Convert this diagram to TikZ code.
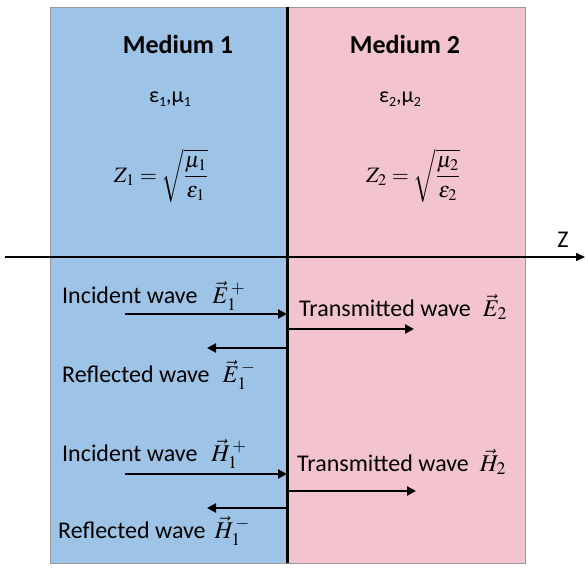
\documentclass[tikz,border=0pt]{standalone}
\usepackage{mathptmx}
\usepackage[no-math]{fontspec}
\setmainfont{Carlito}
\usetikzlibrary{positioning,arrows.meta,calc}
\definecolor{mediumblue}{RGB}{157,195,230}
\definecolor{mediumpink}{RGB}{243,196,205}
\newcommand{\medsub}[1]{\raisebox{-4pt}{\fontsize{14}{14}\selectfont #1}}
\newcommand{\fieldsym}[1]{{\fontsize{24}{28}\selectfont$#1$}}

\begin{document}
\begin{tikzpicture}[
      x=1pt, y=-1pt,
      font=\fontsize{20}{24}\selectfont,
      medium/.style={draw=gray!80, line width=0.6pt, minimum width=237pt, minimum height=556pt, anchor=north west, inner sep=0pt, outer sep=0pt},
      title/.style={font=\fontsize{26}{30}\selectfont\bfseries},
      lbl/.style={anchor=base west, inner sep=0pt, font=\fontsize{24}{28}\selectfont},
      wave/.style={-{Triangle[length=9pt,width=9pt]}, line width=2.2pt},
    ]
      \useasboundingbox (0,0) rectangle (588,567);
      % the two media
      \node[medium, fill=mediumblue] (m1) at (50,7) {};
      \node[medium, fill=mediumpink] (m2) at (288,7) {};
      \draw[line width=3pt] (m1.north east) -- (m1.south east);
      % z axis
      \coordinate (zstart) at (5,257);
      \coordinate (zend) at (585,257);
      \draw[line width=1.5pt, -{Triangle[length=9pt,width=8pt]}] (zstart) -- (zend);
      \node[font=\fontsize{24}{28}\selectfont] (zlbl) at (563,240) {Z};
      % medium parameters
      \node[title] (t1) at (178,44) {Medium 1};
      \node[title] (t2) at (405,44) {Medium 2};
      \node[font=\fontsize{22}{26}\selectfont] (p1) at (170,99) {ε\medsub{1},μ\medsub{1}};
      \node[font=\fontsize{22}{26}\selectfont] (p2) at (400,99) {ε\medsub{2},μ\medsub{2}};
      \node[font=\fontsize{22}{26}\selectfont] (z1) at (161,176) {$\displaystyle Z_1=\sqrt{\frac{\mu_1}{\varepsilon_1}}$};
      \node[font=\fontsize{22}{26}\selectfont] (z2) at (413,176) {$\displaystyle Z_2=\sqrt{\frac{\mu_2}{\varepsilon_2}}$};
      % E field waves
      \node[lbl] (einc) at (62,303) {Incident wave\hspace{15pt}\fieldsym{\vec{E}_1^{\,+}}};
      \node[lbl] (eref) at (62,382) {Reflected wave\hspace{13pt}\fieldsym{\vec{E}_1^{\,-}}};
      \node[lbl] (etra) at (299,316) {Transmitted wave\hspace{12pt}\fieldsym{\vec{E}_2}};
      \coordinate (eincA) at (125,314);
      \coordinate (erefB) at (207,348);
      \coordinate (etraB) at (414,329);
      \draw[wave] (eincA) -- (eincA -| m1.east);
      \draw[wave] (erefB -| m1.east) -- (erefB);
      \draw[wave] (etraB -| m1.east) -- (etraB);
      % H field waves
      \node[lbl] (hinc) at (62,461) {Incident wave\hspace{14pt}\fieldsym{\vec{H}_1^{\,+}}};
      \node[lbl] (href) at (58,538) {Reflected wave\hspace{9pt}\fieldsym{\vec{H}_1^{\,-}}};
      \node[lbl] (htra) at (297,471) {Transmitted wave\hspace{11pt}\fieldsym{\vec{H}_2}};
      \coordinate (hincA) at (125,474);
      \coordinate (hrefB) at (207,508);
      \coordinate (htraB) at (416,491);
      \draw[wave] (hincA) -- (hincA -| m1.east);
      \draw[wave] (hrefB -| m1.east) -- (hrefB);
      \draw[wave] (htraB -| m1.east) -- (htraB);
    \end{tikzpicture}
\end{document}
